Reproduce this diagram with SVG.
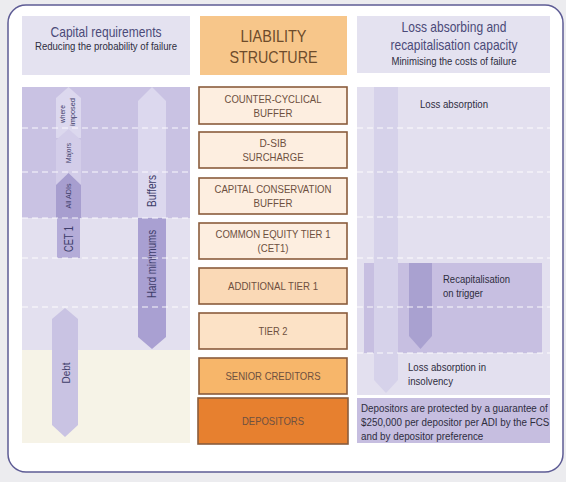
<svg xmlns="http://www.w3.org/2000/svg" width="566" height="482" viewBox="0 0 566 482">
<style>
text{font-family:'Liberation Sans',Arial,sans-serif}
.hd{fill:#4b4a78;font-size:15px;text-anchor:middle}
.sub{fill:#2e2d3e;font-size:11px;text-anchor:middle}
.box{stroke:#8a5c3c;stroke-width:1.6}
.bt{fill:#6e5040;font-size:11.5px;text-anchor:middle}
.dash{stroke:#ffffff;stroke-width:1.1;stroke-dasharray:6 4;fill:none;opacity:0.9}
.rt{fill:#2e2d3e;font-size:11.5px}
.vt{fill:#3e3d6a;text-anchor:middle}
</style>
<rect x="0" y="0" width="566" height="482" fill="#ececef"/>
<rect x="8" y="5" width="555" height="467" rx="18" ry="18" fill="#ffffff" stroke="#5e5c95" stroke-width="1.5"/>

<g id="header-capital">
<rect x="22" y="16" width="168" height="59" fill="#e4e2f0"/>
<text class="hd" x="106" y="37" textLength="111" lengthAdjust="spacingAndGlyphs">Capital requirements</text>
<text class="sub" x="106" y="50" textLength="142" lengthAdjust="spacingAndGlyphs">Reducing the probability of failure</text>
</g>
<g id="header-liability">
<rect x="200" y="16" width="147" height="59" fill="#f7c68a"/>
<text x="273.5" y="42" fill="#6d4b2b" font-size="17" text-anchor="middle" textLength="66" lengthAdjust="spacingAndGlyphs">LIABILITY</text>
<text x="273.5" y="63" fill="#6d4b2b" font-size="17" text-anchor="middle" textLength="88" lengthAdjust="spacingAndGlyphs">STRUCTURE</text>
</g>
<g id="header-loss">
<rect x="357" y="16" width="193" height="57" fill="#e4e2f0"/>
<text class="hd" x="454" y="32" textLength="105" lengthAdjust="spacingAndGlyphs">Loss absorbing and</text>
<text class="hd" x="454" y="50" textLength="127" lengthAdjust="spacingAndGlyphs">recapitalisation capacity</text>
<text class="sub" x="454" y="65" font-size="10.5" textLength="125" lengthAdjust="spacingAndGlyphs">Minimising the costs of failure</text>
</g>

<g id="left-panel">
<rect x="22" y="87" width="168" height="131" fill="#c9c2e3"/>
<rect x="22" y="218" width="168" height="132" fill="#e3e0ef"/>
<rect x="22" y="350" width="168" height="93" fill="#f6f3e7"/>
</g>
<g id="arrow-where-imposed">
<polygon points="56,98 68.5,87 81,98 81,138 56,138" fill="#dcd8ee"/>
<text class="vt" font-size="7.5" transform="translate(65,114) rotate(-90)" textLength="18" lengthAdjust="spacingAndGlyphs">where</text>
<text class="vt" font-size="7.5" transform="translate(75,112) rotate(-90)" textLength="28" lengthAdjust="spacingAndGlyphs">imposed</text>
</g>
<g id="arrow-majors">
<polygon points="56,140 68.5,129 81,140 81,185 56,185" fill="#d3cde9"/>
<text class="vt" font-size="8" transform="translate(71,153) rotate(-90)" textLength="20" lengthAdjust="spacingAndGlyphs">Majors</text>
</g>
<g id="arrow-all-adis">
<polygon points="56,185 68.5,173 81,185 81,218 56,218" fill="#a79ecf"/>
<text class="vt" font-size="8" transform="translate(71,196) rotate(-90)" textLength="25" lengthAdjust="spacingAndGlyphs">All ADIs</text>
</g>
<g id="bar-cet1">
<rect x="57" y="218" width="23" height="40" fill="#b4acd8"/>
<text class="vt" font-size="12" transform="translate(72.5,239) rotate(-90)" textLength="26" lengthAdjust="spacingAndGlyphs">CET 1</text>
</g>
<g id="arrow-buffers">
<polygon points="138,101 152,87 166,101 166,218 138,218" fill="#dcd8ee"/>
<text class="vt" font-size="12" transform="translate(156,191) rotate(-90)" textLength="32" lengthAdjust="spacingAndGlyphs">Buffers</text>
</g>
<g id="arrow-hard-minimums">
<polygon points="138,218 166,218 166,337 152,349 138,337" fill="#a9a0d2"/>
<text class="vt" font-size="12" transform="translate(156,264) rotate(-90)" textLength="68" lengthAdjust="spacingAndGlyphs">Hard minimums</text>
</g>
<g id="arrow-debt">
<polygon points="52,319 65,308 78,319 78,425 65,437 52,425" fill="#c9c3e3"/>
<text class="vt" font-size="11" transform="translate(69.5,373) rotate(-90)" textLength="21" lengthAdjust="spacingAndGlyphs">Debt</text>
</g>

<g id="right-panel">
<rect x="357" y="87" width="193" height="308" fill="#e3e0ef"/>
<rect x="364" y="263" width="178" height="90" fill="#c7bfe1"/>
</g>
<g id="arrow-loss-absorption">
<polygon points="374,87 398,87 398,380 386,393 374,380" fill="#d6d2ea"/>
<text class="rt" x="454" y="108" text-anchor="middle" textLength="68" lengthAdjust="spacingAndGlyphs">Loss absorption</text>
</g>
<g id="arrow-recap">
<polygon points="409,263 432,263 432,336 420.5,349 409,336" fill="#a9a1d0"/>
<text class="rt" x="443" y="283" textLength="67" lengthAdjust="spacingAndGlyphs">Recapitalisation</text>
<text class="rt" x="443" y="297" textLength="40" lengthAdjust="spacingAndGlyphs">on trigger</text>
</g>
<text class="rt" x="408" y="371" textLength="78" lengthAdjust="spacingAndGlyphs">Loss absorption in</text>
<text class="rt" x="408" y="385" textLength="45" lengthAdjust="spacingAndGlyphs">insolvency</text>
<g id="depositor-note">
<rect x="357" y="398" width="193" height="45" fill="#c6bee0"/>
<text class="rt" font-size="11.2" transform="translate(361,412) scale(0.855,1)">Depositors are protected by a guarantee of</text>
<text class="rt" font-size="11.2" transform="translate(361,426) scale(0.855,1)">$250,000 per depositor per ADI by the FCS</text>
<text class="rt" font-size="11.2" transform="translate(361,440) scale(0.855,1)">and by depositor preference</text>
</g>

<g id="connectors">
<path class="dash" d="M22,128H190M22,172H190M22,218H190M22,258H190M22,307H190"/>
<path class="dash" d="M357,128H550M357,172H550M357,217H550M357,258H550M357,307H550M357,353H550"/>
</g>

<g id="box-counter-cyclical">
<rect class="box" x="199" y="87" width="148" height="37" fill="#fdeee0"/>
<text class="bt" x="273" y="103" textLength="97" lengthAdjust="spacingAndGlyphs">COUNTER-CYCLICAL</text>
<text class="bt" x="273" y="117" textLength="39" lengthAdjust="spacingAndGlyphs">BUFFER</text>
</g>
<g id="box-dsib">
<rect class="box" x="199" y="132" width="148" height="36" fill="#fdeee0"/>
<text class="bt" x="273" y="147" textLength="27" lengthAdjust="spacingAndGlyphs">D-SIB</text>
<text class="bt" x="273" y="161" textLength="61" lengthAdjust="spacingAndGlyphs">SURCHARGE</text>
</g>
<g id="box-ccb">
<rect class="box" x="199" y="178" width="148" height="36" fill="#fdeee0"/>
<text class="bt" x="273" y="193" textLength="117" lengthAdjust="spacingAndGlyphs">CAPITAL CONSERVATION</text>
<text class="bt" x="273" y="207" textLength="39" lengthAdjust="spacingAndGlyphs">BUFFER</text>
</g>
<g id="box-cet1">
<rect class="box" x="199" y="223" width="148" height="36" fill="#fdeee0"/>
<text class="bt" x="273" y="238" textLength="115" lengthAdjust="spacingAndGlyphs">COMMON EQUITY TIER 1</text>
<text class="bt" x="273" y="252" textLength="31" lengthAdjust="spacingAndGlyphs">(CET1)</text>
</g>
<g id="box-at1">
<rect class="box" x="199" y="268" width="148" height="36" fill="#fad9b6"/>
<text class="bt" x="273" y="290" textLength="90" lengthAdjust="spacingAndGlyphs">ADDITIONAL TIER 1</text>
</g>
<g id="box-tier2">
<rect class="box" x="199" y="313" width="148" height="36" fill="#fce2c6"/>
<text class="bt" x="273" y="335" textLength="29" lengthAdjust="spacingAndGlyphs">TIER 2</text>
</g>
<g id="box-senior">
<rect class="box" x="199" y="358" width="148" height="36" fill="#f7b66a"/>
<text class="bt" x="273" y="380" fill="#7a5030" textLength="95" lengthAdjust="spacingAndGlyphs">SENIOR CREDITORS</text>
</g>
<g id="box-depositors">
<rect class="box" x="198" y="398" width="150" height="46" fill="#e7802f" stroke="#8a4a20"/>
<text class="bt" x="273" y="425" fill="#a8542a" textLength="62" lengthAdjust="spacingAndGlyphs">DEPOSITORS</text>
</g>
</svg>
